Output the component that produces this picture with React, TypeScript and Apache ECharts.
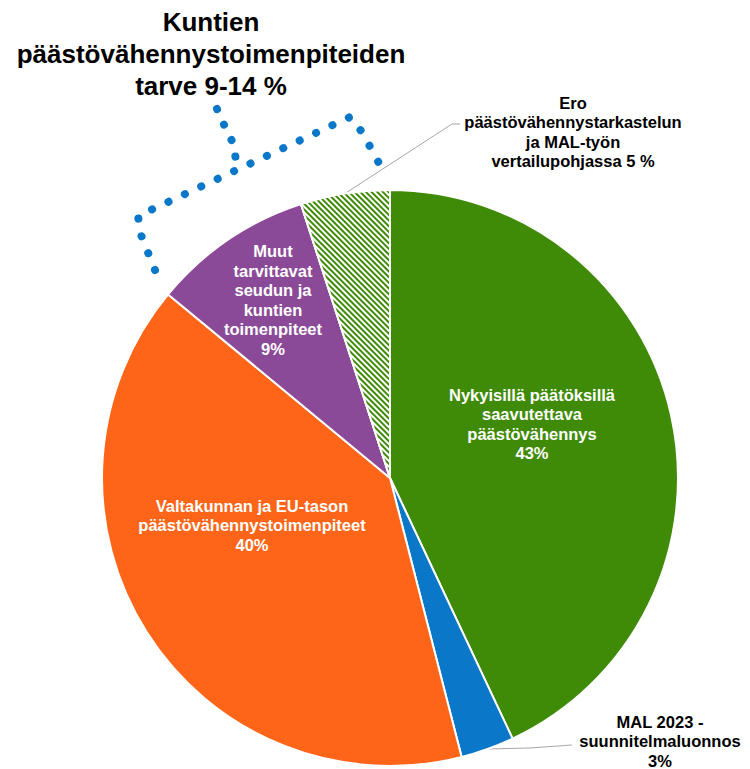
import React, { useEffect, useRef } from "react";
import * as echarts from "echarts";

const categories = [
  "Nykyisillä päätöksillä\nsaavutettava\npäästövähennys",
  "MAL 2023 -\nsuunnitelmaluonnos",
  "Valtakunnan ja EU-tason\npäästövähennystoimenpiteet",
  "Muut\ntarvittavat\nseudun ja\nkuntien\ntoimenpiteet",
  "Ero\npäästövähennystarkastelun\nja MAL-työn\nvertailupohjassa",
];
const values = [43, 3, 40, 9, 5];
const valueSuffix = ["%", "%", "%", "%", " %"];
const colors = ["#3F8A07", "#0A77C9", "#FE6519", "#8B4A98", "#FFFFFF"];
const titleText = "Kuntien\npäästövähennystoimenpiteiden\ntarve 9-14 %";

const FONT = "Arial, 'Liberation Sans', sans-serif";

export default function App() {
  const ref = useRef<HTMLDivElement>(null);
  useEffect(() => {
    if (!ref.current) return;
    const chart = echarts.init(ref.current, undefined, { renderer: "svg" });
    const labelPos: Record<number, [number, number]> = {
      0: [532, 424],
      1: [660, 741],
      2: [252, 525],
      3: [273, 300],
      4: [573, 132],
    };
    const data = values.map((v, i) => {
      const outside = i === 1 || i === 4;
      const item: any = {
        name: categories[i],
        value: v,
        itemStyle: { color: colors[i] },
        label: {
          show: true,
          position: outside ? "outside" : "inside",
          color: outside ? "#000" : "#fff",
          formatter: () => categories[i] + (i === 4 ? " " : "\n") + v + valueSuffix[i],
          fontSize: 16.5,
          fontWeight: "bold",
          fontFamily: FONT,
          lineHeight: 19.5,
          align: "center",
        },
        labelLine: {
          show: outside,
          lineStyle: { color: "#A6A6A6", width: 1 },
        },
      };
      if (i === 4) {
        item.itemStyle = {
          color: "#FFFFFF",
          decal: {
            symbol: "rect",
            symbolSize: 1,
            color: "#3F8A07",
            dashArrayX: [1, 0],
            dashArrayY: [1.5, 1.5],
            rotation: Math.PI / 4,
          },
        };
      }
      return item;
    });

    chart.setOption({
      animation: false,
      graphic: [
        {
          type: "text",
          x: 211,
          y: 54,
          style: {
            text: titleText,
            font: `bold 26px ${FONT}`,
            fill: "#000",
            textAlign: "center",
            textVerticalAlign: "middle",
            lineHeight: 32,
          },
        },
        {
          type: "polyline",
          shape: {
            points: [
              [155, 270],
              [141, 235],
              [138, 216],
              [350, 117],
              [362, 132],
              [380, 165],
            ],
          },
          style: {
            stroke: "#0A77C9",
            lineWidth: 8,
            lineCap: "round",
            lineDash: [0.1, 18],
            fill: null,
          },
        },
        {
          type: "polyline",
          shape: {
            points: [
              [217, 109],
              [225, 127],
              [233, 143],
              [236, 160],
            ],
          },
          style: {
            stroke: "#0A77C9",
            lineWidth: 8,
            lineCap: "round",
            lineDash: [0.1, 17],
            fill: null,
          },
        },
      ],
      series: [
        {
          type: "pie",
          center: [390, 478],
          radius: 288,
          startAngle: 90,
          clockwise: true,
          avoidLabelOverlap: false,
          itemStyle: { borderColor: "#fff", borderWidth: 2 },
          emphasis: { disabled: true },
          data,
          labelLayout: (p: any) => {
            const pos = labelPos[p.dataIndex];
            const res: any = {
              x: pos[0],
              y: pos[1],
              align: "center",
              verticalAlign: "middle",
            };
            const start =
              p.labelLinePoints && p.labelLinePoints[0]
                ? p.labelLinePoints[0]
                : null;
            if (p.dataIndex === 4 && start) {
              res.labelLinePoints = [start, [452, 124], [460, 124]];
            }
            if (p.dataIndex === 1 && start) {
              res.labelLinePoints = [start, [530, 748], [572, 745]];
            }
            return res;
          },
        },
      ],
    });
    return () => chart.dispose();
  }, []);
  return (
    <div
      ref={ref}
      style={{ position: "fixed", left: 0, top: 0, width: 750, height: 769, background: "#fff" }}
    />
  );
}
